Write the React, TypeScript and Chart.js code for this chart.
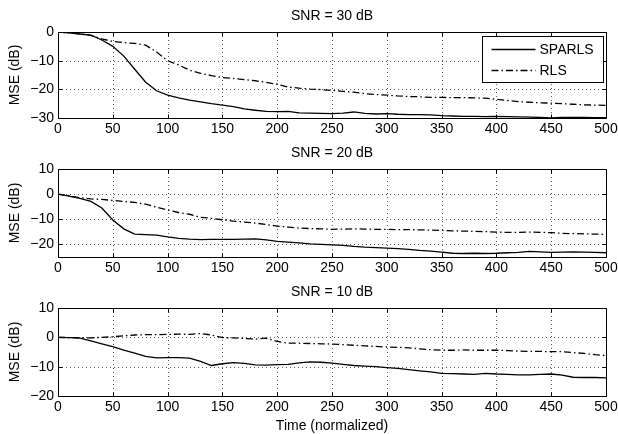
import React, { useEffect, useRef } from "react";
import { Chart, registerables } from "chart.js";

Chart.register(...registerables);

// ---------------- data ----------------
const timeSteps = [
  0, 10, 20, 30, 40, 50, 60, 70, 80, 90, 100, 110, 120, 130, 140, 150, 160, 170, 180, 190, 200,
  210, 220, 230, 240, 250, 260, 270, 280, 290, 300, 310, 320, 330, 340, 350, 360, 370, 380, 390, 400,
  410, 420, 430, 440, 450, 460, 470, 480, 490, 500,
];
const xTickValues = [0, 50, 100, 150, 200, 250, 300, 350, 400, 450, 500];

const seriesLabels = ["SPARLS", "RLS"];
const panelTitles = ["SNR = 30 dB", "SNR = 20 dB", "SNR = 10 dB"];
const yAxisLabel = "MSE (dB)";
const xAxisLabel = "Time (normalized)";

const snr30Sparls = [
  0, -0.3, -0.7, -1.1, -2.8, -5, -8.4, -13, -17.5, -20.5, -22, -23, -23.8, -24.4, -25, -25.5, -26, -26.8, -27.3, -27.7, -27.8,
  -27.7, -28.2, -28.3, -28.4, -28.5, -28.3, -27.9, -28.4, -28.6, -28.5, -28.7, -28.8, -28.8, -28.9, -29.2, -29.3, -29.4, -29.4, -29.5, -29.4,
  -29.5, -29.6, -29.7, -29.8, -30, -29.8, -29.8, -29.8, -29.9, -29.9,
];
const snr30Rls = [
  0, -0.3, -0.7, -1.2, -2.4, -3.3, -3.7, -4, -4.6, -7, -10, -11.5, -13.3, -14.4, -15.2, -15.9, -16.2, -16.6, -17, -17.6, -18.2,
  -19.2, -19.6, -19.9, -20.1, -20.4, -20.7, -21, -21.5, -21.8, -22, -22.3, -22.5, -22.6, -22.8, -22.8, -22.9, -22.9, -23, -23.1, -23.5,
  -23.9, -24.3, -24.5, -24.7, -24.8, -25, -25.2, -25.4, -25.5, -25.6,
];
const snr20Sparls = [
  0, -0.8, -1.7, -2.9, -5.5, -10.3, -13.8, -15.9, -16.1, -16.3, -17, -17.6, -17.9, -18.1, -18, -18, -18, -17.9, -17.8, -18.2, -18.8,
  -19.1, -19.4, -19.8, -20, -20.2, -20.4, -20.8, -21.1, -21.3, -21.5, -21.7, -22, -22.4, -22.7, -23.1, -23.5, -23.6, -23.5, -23.6, -23.5,
  -23.3, -23.2, -22.8, -23, -23.2, -23.1, -23, -23.1, -23.2, -23.3,
];
const snr20Rls = [
  0, -0.6, -1.4, -1.9, -2.1, -2.5, -2.9, -3.3, -4, -5.2, -6.3, -7.3, -8, -9.2, -9.6, -10.2, -10.7, -11.1, -11.5, -12.1, -12.7,
  -13.1, -13.5, -13.7, -13.8, -14, -13.9, -13.8, -13.9, -14, -14, -14.1, -14.1, -14.2, -14.3, -14.4, -14.6, -14.7, -14.8, -14.9, -15.1,
  -15.2, -15.2, -15.1, -15.2, -15.3, -15.6, -15.7, -15.8, -15.9, -16,
];
const snr10Sparls = [
  0, -0.1, -0.3, -1.2, -2.2, -3.2, -4.4, -5.4, -6.5, -7, -6.9, -6.9, -7.1, -8.2, -9.6, -9, -8.6, -8.9, -9.4, -9.5, -9.3,
  -9.2, -8.7, -8.4, -8.5, -8.8, -9.2, -9.6, -9.8, -10, -10.3, -10.6, -11, -11.4, -11.8, -12.3, -12.4, -12.5, -12.6, -12.3, -12.5,
  -12.6, -12.8, -12.8, -12.6, -12.5, -12.9, -13.6, -13.7, -13.7, -13.8,
];
const snr10Rls = [
  0, -0.1, -0.2, -0.2, 0, 0.2, 0.5, 0.8, 0.9, 0.9, 1, 1.1, 1, 1.3, 0.8, -0.1, -0.2, -0.4, -0.6, -0.3, -1.4,
  -2, -2, -2.1, -2.2, -2.3, -2.5, -2.7, -2.9, -3.1, -3.3, -3.4, -3.6, -3.9, -4.2, -4.4, -4.4, -4.3, -4.4, -4.4, -4.4,
  -4.5, -4.7, -4.8, -4.8, -4.9, -4.9, -5.2, -5.5, -5.9, -6.2,
];

const yTicks30 = [-30, -20, -10, 0];
const yTicks20 = [-20, -10, 0, 10];
const yTicks10 = [-20, -10, 0, 10];

// ---------------- styling ----------------
const FONT = "'Liberation Sans', Arial, Helvetica, sans-serif";
const FONT_SIZE = 14;
const RLS_DASH = [7, 3, 1.5, 3];

const fmt = (v: number) => (v < 0 ? "\u2212" + Math.abs(v) : String(v));

const matlabPlugin = {
  id: "matlabAxes",
  beforeDatasetsDraw(chart: any, _args: any, opts: any) {
    const { ctx, chartArea: a, scales } = chart;
    const x = scales.x;
    const y = scales.y;
    ctx.save();
    ctx.strokeStyle = "rgba(0,0,0,0.65)";
    ctx.lineWidth = 1;
    ctx.setLineDash([1, 3]);
    ctx.beginPath();
    for (const t of opts.xTicks) {
      if (t === x.min || t === x.max) continue;
      const px = Math.round(x.getPixelForValue(t)) + 0.5;
      ctx.moveTo(px, a.top);
      ctx.lineTo(px, a.bottom);
    }
    for (const t of opts.yTicks) {
      if (t === y.min || t === y.max) continue;
      const py = Math.round(y.getPixelForValue(t)) + 0.5;
      ctx.moveTo(a.left, py);
      ctx.lineTo(a.right, py);
    }
    ctx.stroke();
    ctx.restore();
  },
  afterDatasetsDraw(chart: any, _args: any, opts: any) {
    const { ctx, chartArea: a, scales } = chart;
    const x = scales.x;
    const y = scales.y;
    const L = Math.round(a.left) + 0.5;
    const R = Math.round(a.right) + 0.5;
    const T = Math.round(a.top) + 0.5;
    const B = Math.round(a.bottom) + 0.5;
    ctx.save();
    ctx.strokeStyle = "#000";
    ctx.lineWidth = 1;
    ctx.setLineDash([]);
    ctx.beginPath();
    ctx.rect(L, T, R - L, B - T);
    const tl = 4;
    for (const t of opts.xTicks) {
      const px = Math.round(x.getPixelForValue(t)) + 0.5;
      ctx.moveTo(px, B);
      ctx.lineTo(px, B - tl);
      ctx.moveTo(px, T);
      ctx.lineTo(px, T + tl);
    }
    for (const t of opts.yTicks) {
      const py = Math.round(y.getPixelForValue(t)) + 0.5;
      ctx.moveTo(L, py);
      ctx.lineTo(L + tl, py);
      ctx.moveTo(R, py);
      ctx.lineTo(R - tl, py);
    }
    ctx.stroke();
    ctx.restore();
  },
  afterDraw(chart: any, _args: any, opts: any) {
    const { ctx, chartArea: a } = chart;
    ctx.save();
    ctx.fillStyle = "#000";
    ctx.font = `${FONT_SIZE}px ${FONT}`;
    // title
    ctx.textAlign = "center";
    ctx.textBaseline = "middle";
    ctx.fillText(opts.title, (a.left + a.right) / 2, a.top - 16);
    // y axis label
    ctx.save();
    ctx.translate(15, (a.top + a.bottom) / 2);
    ctx.rotate(-Math.PI / 2);
    ctx.fillText(opts.yLabel, 0, 0);
    ctx.restore();
    // x axis label
    if (opts.xLabel) {
      ctx.fillText(opts.xLabel, (a.left + a.right) / 2, a.bottom + 30);
    }
    // legend
    if (opts.legend) {
      const bw = 121;
      const bh = 46;
      const bx = Math.round(a.right - 3 - bw) + 0.5;
      const by = Math.round(a.top + 4) + 0.5;
      ctx.fillStyle = "#fff";
      ctx.fillRect(bx, by, bw, bh);
      ctx.strokeStyle = "#000";
      ctx.lineWidth = 1;
      ctx.strokeRect(bx, by, bw, bh);
      const ds = chart.data.datasets;
      ds.forEach((d: any, i: number) => {
        const ly = by + 13 + i * 21;
        ctx.beginPath();
        ctx.setLineDash(d.borderDash || []);
        ctx.lineWidth = d.borderWidth;
        ctx.strokeStyle = d.borderColor;
        ctx.moveTo(bx + 9, ly);
        ctx.lineTo(bx + 53, ly);
        ctx.stroke();
        ctx.setLineDash([]);
        ctx.fillStyle = "#000";
        ctx.textAlign = "left";
        ctx.fillText(d.label, bx + 57, ly + 0.5);
      });
    }
    ctx.restore();
  },
};

type PanelProps = {
  title: string;
  sparls: number[];
  rls: number[];
  yMin: number;
  yMax: number;
  yTicks: number[];
  legend?: boolean;
  xLabel?: string;
  top: number;
  height: number;
  padTop: number;
  bottomBand: number;
};

function Panel(p: PanelProps) {
  const ref = useRef<HTMLCanvasElement | null>(null);
  useEffect(() => {
    if (!ref.current) return;
    const chart = new Chart(ref.current, {
      type: "line",
      data: {
        datasets: [
          {
            label: seriesLabels[0],
            data: timeSteps.map((t, i) => ({ x: t, y: p.sparls[i] })),
            borderColor: "#000",
            borderWidth: 1.3,
            pointRadius: 0,
            tension: 0,
            fill: false,
          },
          {
            label: seriesLabels[1],
            data: timeSteps.map((t, i) => ({ x: t, y: p.rls[i] })),
            borderColor: "#000",
            borderWidth: 1.3,
            borderDash: RLS_DASH,
            pointRadius: 0,
            tension: 0,
            fill: false,
          },
        ],
      },
      options: {
        responsive: false,
        animation: false,
        layout: { padding: { top: p.padTop, left: 0, right: 12, bottom: 0 } },
        plugins: {
          legend: { display: false },
          tooltip: { enabled: false },
          title: { display: false },
          matlabAxes: {
            title: p.title,
            yLabel: yAxisLabel,
            xLabel: p.xLabel,
            legend: p.legend,
            xTicks: xTickValues,
            yTicks: p.yTicks,
          },
        } as any,
        scales: {
          x: {
            type: "linear",
            min: 0,
            max: 500,
            grid: { display: false, drawTicks: false },
            border: { display: false },
            afterBuildTicks: (s: any) => {
              s.ticks = xTickValues.map((v) => ({ value: v }));
            },
            afterFit: (s: any) => {
              s.height = p.bottomBand;
              s.paddingLeft = 0;
              s.paddingRight = 0;
              s.paddingTop = 0;
              s.paddingBottom = 0;
            },
            ticks: {
              color: "#000",
              padding: 3,
              maxRotation: 0,
              autoSkip: false,
              font: { family: FONT, size: FONT_SIZE },
              callback: (v: any) => fmt(Number(v)),
            },
          },
          y: {
            type: "linear",
            min: p.yMin,
            max: p.yMax,
            grid: { display: false, drawTicks: false },
            border: { display: false },
            afterBuildTicks: (s: any) => {
              s.ticks = p.yTicks.map((v) => ({ value: v }));
            },
            afterFit: (s: any) => {
              s.width = 58;
              s.paddingTop = 0;
              s.paddingBottom = 0;
            },
            ticks: {
              color: "#000",
              padding: 4,
              autoSkip: false,
              font: { family: FONT, size: FONT_SIZE },
              callback: (v: any) => fmt(Number(v)),
            },
          },
        },
      },
      plugins: [matlabPlugin],
    });
    return () => chart.destroy();
  }, []);
  return (
    <canvas
      ref={ref}
      width={618}
      height={p.height}
      style={{ position: "absolute", left: 0, top: p.top, width: 618, height: p.height, display: "block" }}
    />
  );
}

export default function App() {
  return (
    <div style={{ position: "fixed", left: 0, top: 0, width: 618, height: 434, background: "#fff", overflow: "hidden" }}>
      <Panel title={panelTitles[0]} sparls={snr30Sparls} rls={snr30Rls} yMin={-30} yMax={0} yTicks={yTicks30}
        legend top={0} height={140} padTop={32} bottomBand={22} />
      <Panel title={panelTitles[1]} sparls={snr20Sparls} rls={snr20Rls} yMin={-25} yMax={10} yTicks={yTicks20}
        top={140} height={140} padTop={29} bottomBand={23} />
      <Panel title={panelTitles[2]} sparls={snr10Sparls} rls={snr10Rls} yMin={-20} yMax={10} yTicks={yTicks10}
        xLabel={xAxisLabel} top={280} height={154} padTop={28} bottomBand={38} />
    </div>
  );
}
